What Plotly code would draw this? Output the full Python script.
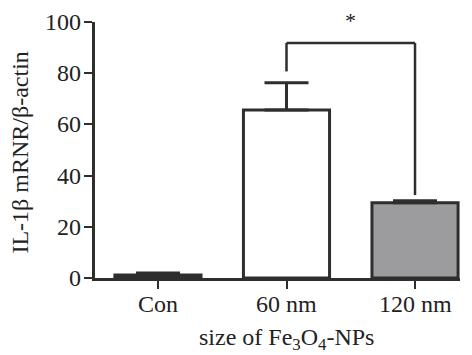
import plotly.graph_objects as go

categories = ["Con", "60 nm", "120 nm"]
means = [1.2, 65.6, 29.4]
errors = [0.8, 10.7, 0.8]
fills = ["#ffffff", "#ffffff", "#9c9c9e"]
y_ticks = [0, 20, 40, 60, 80, 100]
x_title = "size of Fe<sub>3</sub>O<sub>4</sub>-NPs"
y_title = "IL-1β mRNR/β-actin"

ink = "#2e2e2e"
serif = "Liberation Serif"
tickf = dict(family=serif, size=24, color="#222")
titlef = dict(family=serif, size=24, color="#222")

fig = go.Figure()
fig.add_trace(go.Bar(
    x=list(range(len(categories))), y=means,
    width=0.67,
    marker=dict(color=fills, line=dict(color=ink, width=3)),
    error_y=dict(type="data", symmetric=False, array=errors,
                 arrayminus=[0] * len(errors), color=ink, thickness=3, width=22),
    cliponaxis=False,
))

# significance bracket between 60 nm and 120 nm
bx0, bx1 = 1, 2
btop, bleft, bright = 91.8, 80.7, 32.4
for (x0, y0, x1, y1) in [(bx0, bleft, bx0, btop), (bx0, btop, bx1, btop), (bx1, btop, bx1, bright)]:
    fig.add_shape(type="line", xref="x", yref="y", x0=x0, y0=y0, x1=x1, y1=y1,
                  line=dict(color=ink, width=2.5))
fig.add_annotation(x=(bx0 + bx1) / 2, y=btop + 3, xref="x", yref="y", text="*",
                   showarrow=False, yanchor="bottom", font=dict(family=serif, size=22, color="#222"))

# tick labels as text annotations (placed through the axes' scales)
for i, c in enumerate(categories):
    fig.add_annotation(x=i, xref="x", y=0, yref="paper", text=c, showarrow=False,
                       yanchor="middle", yshift=-26, font=tickf)
for v in y_ticks:
    fig.add_annotation(x=0, xref="paper", y=v, yref="y", text=str(v), showarrow=False,
                       xanchor="right", xshift=-12, font=tickf)
# axis titles
fig.add_annotation(x=1, xref="x", y=0, yref="paper", text=x_title, showarrow=False,
                   yanchor="middle", yshift=-61, font=titlef)
fig.add_annotation(x=0, xref="paper", y=0.49, yref="paper", text=y_title, showarrow=False,
                   textangle=-90, xanchor="center", xshift=-75, font=titlef)

fig.update_layout(
    width=472, height=355,
    margin=dict(l=95, r=12, t=22, b=77),
    paper_bgcolor="white", plot_bgcolor="white",
    font=tickf, showlegend=False,
    xaxis=dict(range=[-0.49, 2.35], tickmode="array", tickvals=list(range(len(categories))),
               showticklabels=False, showgrid=False, zeroline=False, automargin=False,
               showline=True, linecolor=ink, linewidth=3,
               ticks="outside", ticklen=8, tickwidth=2, tickcolor=ink),
    yaxis=dict(range=[0, 100], tickvals=y_ticks, showticklabels=False,
               showgrid=False, zeroline=False, automargin=False,
               showline=True, linecolor=ink, linewidth=3,
               ticks="outside", ticklen=8, tickwidth=2, tickcolor=ink),
)

fig.write_html("out.html")
